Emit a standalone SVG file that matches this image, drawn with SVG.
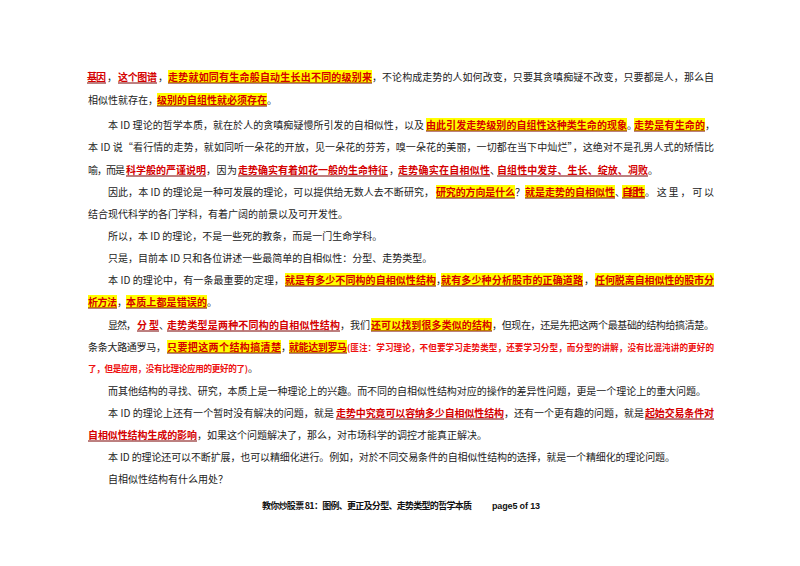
<svg xmlns="http://www.w3.org/2000/svg" width="800" height="566" viewBox="0 0 800 566">
<style>
text{font-family:"Noto Sans CJK SC","Liberation Sans",sans-serif;font-size:10px;fill:#222}
.r{fill:#d40000;font-weight:bold}
.n{fill:#ee1111;font-weight:bold;font-size:8.6px}
.y{fill:#ffff00}
.u{stroke:#7a0000;stroke-width:1}
.f{font-weight:bold;font-size:9px;fill:#111}
</style>
<rect width="800" height="566" fill="#fff"/>
<g id="highlights">
<rect class="y" x="168" y="70" width="204" height="13"/>
<rect class="y" x="157" y="93" width="110" height="13"/>
<rect class="y" x="426" y="118" width="201" height="13"/>
<rect class="y" x="634" y="118" width="71" height="13"/>
<rect class="y" x="436" y="185" width="79" height="13"/>
<rect class="y" x="525" y="185" width="90" height="13"/>
<rect class="y" x="622" y="185" width="23" height="13"/>
<rect class="y" x="285" y="273" width="151" height="13"/>
<rect class="y" x="441" y="273" width="142" height="13"/>
<rect class="y" x="595" y="273" width="119" height="13"/>
<rect class="y" x="88" y="295" width="29" height="13"/>
<rect class="y" x="126" y="295" width="81" height="13"/>
<rect class="y" x="371" y="318" width="121" height="13"/>
<rect class="y" x="167" y="340" width="114" height="13"/>
<rect class="y" x="289" y="340" width="58" height="13"/>
</g>
<g id="underlines">
<line class="u" x1="87" y1="83" x2="106" y2="83"/><line class="u" x1="118" y1="83" x2="157" y2="83"/><line class="u" x1="168" y1="83" x2="372" y2="83"/>
<line class="u" x1="157" y1="106" x2="267" y2="106"/>
<line class="u" x1="426" y1="131" x2="627" y2="131"/><line class="u" x1="634" y1="131" x2="705" y2="131"/>
<line class="u" x1="126" y1="176" x2="206" y2="176"/><line class="u" x1="238" y1="176" x2="388" y2="176"/><line class="u" x1="398" y1="176" x2="490" y2="176"/><line class="u" x1="497" y1="176" x2="648" y2="176"/>
<line class="u" x1="436" y1="198" x2="515" y2="198"/><line class="u" x1="525" y1="198" x2="615" y2="198"/><line class="u" x1="622" y1="198" x2="645" y2="198"/>
<line class="u" x1="285" y1="286" x2="436" y2="286"/><line class="u" x1="441" y1="286" x2="583" y2="286"/><line class="u" x1="595" y1="286" x2="714" y2="286"/>
<line class="u" x1="88" y1="308" x2="117" y2="308"/><line class="u" x1="126" y1="308" x2="207" y2="308"/>
<line class="u" x1="137" y1="331" x2="159" y2="331"/><line class="u" x1="167" y1="331" x2="340" y2="331"/><line class="u" x1="371" y1="331" x2="492" y2="331"/>
<line class="u" x1="167" y1="353" x2="281" y2="353"/><line class="u" x1="289" y1="353" x2="347" y2="353"/>
<line class="u" x1="336" y1="419" x2="504" y2="419"/><line class="u" x1="645" y1="419" x2="714" y2="419"/>
<line class="u" x1="88" y1="441" x2="197" y2="441"/>
</g>
<g id="body">
<text class="r" x="87" y="81" textLength="19">基因</text><text x="107" y="81">，</text><text class="r" x="118" y="81" textLength="39">这个图谱</text><text x="158" y="81">，</text>
<text class="r" x="168" y="81" textLength="204">走势就如同有生命般自动生长出不同的级别来</text>
<text x="372" y="81" textLength="342">，不论构成走势的人如何改变，只要其贪嗔痴疑不改变，只要都是人，那么自</text>

<text x="88" y="104">相似性就存在，</text><text class="r" x="157" y="104" textLength="110">级别的自组性就必须存在</text><text x="267" y="104">。</text>

<text x="108" y="129" textLength="316">本 ID 理论的哲学本质，就在於人的贪嗔痴疑慢所引发的自相似性，以及</text>
<text class="r" x="426" y="129" textLength="201">由此引发走势级别的自组性这种类生命的现象</text><text x="627" y="129">。</text>
<text class="r" x="634" y="129" textLength="71">走势是有生命的</text><text x="705" y="129">，</text>

<text x="88" y="151" textLength="626">本 ID 说“看行情的走势，就如同听一朵花的开放，见一朵花的芬芳，嗅一朵花的美丽，一切都在当下中灿烂”，这绝对不是孔男人式的矫情比</text>

<text x="88" y="174" textLength="37">喻，而是</text><text class="r" x="126" y="174" textLength="80">科学般的严谨说明</text><text x="206" y="174" textLength="31">，因为</text>
<text class="r" x="238" y="174" textLength="150">走势确实有着如花一般的生命特征</text><text x="389" y="174">，</text>
<text class="r" x="398" y="174" textLength="92">走势确实在自相似性</text><text x="490" y="174">、</text>
<text class="r" x="497" y="174" textLength="151">自组性中发芽、生长、绽放、凋败</text><text x="648" y="174">。</text>

<text x="108" y="196" textLength="326">因此，本 ID 的理论是一种可发展的理论，可以提供给无数人去不断研究，</text>
<text class="r" x="436" y="196" textLength="79">研究的方向是什么</text><text x="515" y="196">？</text>
<text class="r" x="525" y="196" textLength="90">就是走势的自相似性</text><text x="615" y="196">、</text>
<text class="r" x="622" y="196" textLength="23">自组性</text><text x="645" y="196" textLength="69">。这里，可以</text>

<text x="88" y="218">结合现代科学的各门学科，有着广阔的前景以及可开发性。</text>
<text x="108" y="240">所以，本 ID 的理论，不是一些死的教条，而是一门生命学科。</text>
<text x="108" y="262">只是，目前本 ID 只和各位讲述一些最简单的自相似性：分型、走势类型。</text>

<text x="108" y="284" textLength="176">本 ID 的理论中，有一条最重要的定理，</text>
<text class="r" x="285" y="284" textLength="151">就是有多少不同构的自相似性结构</text><text x="436" y="284">，</text>
<text class="r" x="441" y="284" textLength="142">就有多少种分析股市的正确道路</text><text x="584" y="284">，</text>
<text class="r" x="595" y="284" textLength="119">任何脱离自相似性的股市分</text>

<text class="r" x="88" y="306" textLength="29">析方法</text><text x="117" y="306">，</text><text class="r" x="126" y="306" textLength="81">本质上都是错误的</text><text x="207" y="306">。</text>

<text x="108" y="329" textLength="28">显然，</text><text class="r" x="137" y="329" textLength="22">分型</text><text x="159" y="329">、</text>
<text class="r" x="167" y="329" textLength="173">走势类型是两种不同构的自相似性结构</text><text x="340" y="329" textLength="30">，我们</text>
<text class="r" x="371" y="329" textLength="121">还可以找到很多类似的结构</text>
<text x="492" y="329" textLength="222">，但现在，还是先把这两个最基础的结构给搞清楚。</text>

<text x="88" y="351" textLength="78">条条大路通罗马，</text><text class="r" x="167" y="351" textLength="114">只要把这两个结构搞清楚</text><text x="281" y="351">，</text>
<text class="r" x="289" y="351" textLength="58">就能达到罗马</text>
<text class="n" x="347" y="351" textLength="367">(匪注：学习理论，不但要学习走势类型，还要学习分型，而分型的讲解，没有比混沌讲的更好的</text>

<text class="n" x="88" y="372" textLength="160">了，但是应用，没有比理论应用的更好的了)</text><text x="248" y="372">。</text>

<text x="108" y="395" textLength="598">而其他结构的寻找、研究，本质上是一种理论上的兴趣。而不同的自相似性结构对应的操作的差异性问题，更是一个理论上的重大问题。</text>

<text x="108" y="417" textLength="226">本 ID 的理论上还有一个暂时没有解决的问题，就是</text>
<text class="r" x="336" y="417" textLength="168">走势中究竟可以容纳多少自相似性结构</text>
<text x="504" y="417" textLength="140">，还有一个更有趣的问题，就是</text>
<text class="r" x="645" y="417" textLength="69">起始交易条件对</text>

<text class="r" x="88" y="439" textLength="109">自相似性结构生成的影响</text><text x="197" y="439">，如果这个问题解决了，那么，对市场科学的调控才能真正解决。</text>

<text x="108" y="461" textLength="567">本 ID 的理论还可以不断扩展，也可以精细化进行。例如，对於不同交易条件的自相似性结构的选择，就是一个精细化的理论问题。</text>
<text x="108" y="483">自相似性结构有什么用处？</text>
</g>
<g id="footer">
<text class="f" x="262" y="509" textLength="210">教你炒股票 81：图例、更正及分型、走势类型的哲学本质</text>
<text class="f" x="492" y="509" style="font-family:'Liberation Sans',sans-serif" textLength="48">page5 of 13</text>
</g>
</svg>
